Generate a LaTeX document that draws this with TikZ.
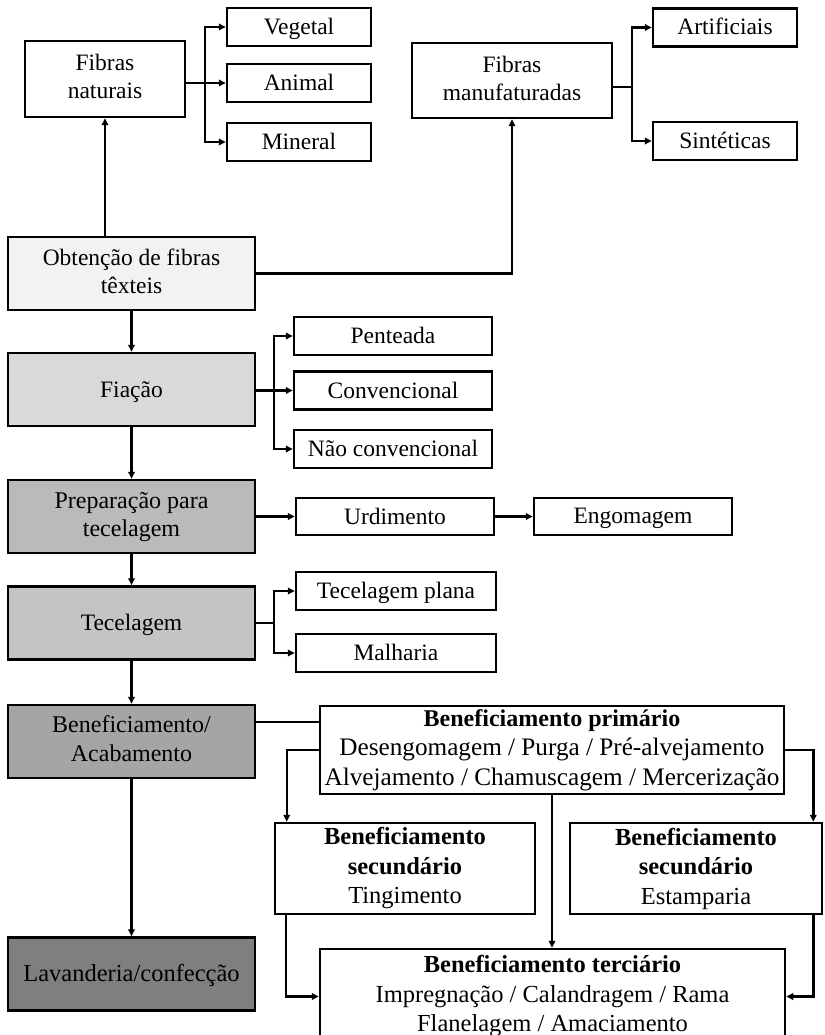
\documentclass[tikz,border=0pt]{standalone}
\usepackage{fontspec}
\setmainfont{Liberation Serif}
\usetikzlibrary{positioning, arrows.meta}

\definecolor{cinzaA}{HTML}{F2F2F2}
\definecolor{cinzaB}{HTML}{D9D9D9}
\definecolor{cinzaC}{HTML}{BABABA}
\definecolor{cinzaD}{HTML}{C4C4C4}
\definecolor{cinzaE}{HTML}{A5A5A5}
\definecolor{cinzaF}{HTML}{7F7F7F}

\begin{document}
\begin{tikzpicture}[x=1pt,y=-1pt]
	% estilos das caixas e setas
	\tikzset{
		apoio/.style 2 args={
			execute at begin node={\rule[-#2]{0pt}{#1}},
			execute at end node={\rule[-#2]{0pt}{#1}}
		},
		caixa/.style={
			draw, line width=2.5pt, fill=white,
			align=center, inner sep=0pt,
			font=\fontsize{23.5}{28}\selectfont,
			apoio={25pt}{5pt}
		},
		etapa/.style={caixa, minimum width=247pt, minimum height=73pt},
		ramo/.style={caixa, minimum height=38pt},
		benef/.style={caixa, font=\fontsize{24.5}{29.5}\selectfont, apoio={25pt}{3pt}},
		seta/.style={line width=2.5pt, -{Triangle[length=7pt,width=6.5pt]}},
		linha/.style={line width=2.5pt}
	}
	\useasboundingbox (0,0) rectangle (824,1035);
	
	% fibras naturais e manufaturadas
	\node[caixa, minimum width=160pt, minimum height=76pt] (nat) at (105,79) {Fibras\\naturais};
	\node[ramo, minimum width=144pt] (veg) at (299,27) {Vegetal};
	\node[ramo, minimum width=144pt] (ani) at (299,83) {Animal};
	\node[ramo, minimum width=144pt] (min) at (299,142) {Mineral};
	\node[caixa, minimum width=200pt, minimum height=75pt] (manuf) at (512,80.5) {Fibras\\manufaturadas};
	\node[ramo, minimum width=144pt] (art) at (725,27.5) {Artificiais};
	\node[ramo, minimum width=144pt] (sin) at (725,141) {Sintéticas};
	
	% etapas do processo (coluna da esquerda)
	\node[etapa, fill=cinzaA] (obt) at (131.5,273.5) {Obtenção de fibras\\têxteis};
	\node[etapa, fill=cinzaB] (fia) at (131.5,389.5) {Fiação};
	\node[etapa, fill=cinzaC, font=\fontsize{24}{28}\selectfont] (prep) at (131.5,516.5) {Preparação para\\tecelagem};
	\node[etapa, fill=cinzaD] (tec) at (131.5,623) {Tecelagem};
	\node[etapa, fill=cinzaE, font=\fontsize{24}{29}\selectfont] (acab) at (131.5,741.5) {Beneficiamento/\\Acabamento};
	\node[etapa, fill=cinzaF, font=\fontsize{24.5}{29}\selectfont] (lav) at (131.5,974) {Lavanderia/confecção};
	
	% ramos de fiação, preparação e tecelagem
	\node[ramo, minimum width=198pt] (pen) at (393,336) {Penteada};
	\node[ramo, minimum width=198pt] (conv) at (393,390.5) {Convencional};
	\node[ramo, minimum width=198pt] (nconv) at (393,449) {Não convencional};
	\node[ramo, minimum width=198pt, minimum height=37pt] (urd) at (395,516.5) {Urdimento};
	\node[ramo, minimum width=198pt, minimum height=37pt] (eng) at (633,516.5) {Engomagem};
	\node[ramo, minimum width=200pt] (plana) at (396,591) {Tecelagem plana};
	\node[ramo, minimum width=200pt] (malh) at (396,653) {Malharia};
	
	% beneficiamentos
	\node[benef, minimum width=464pt, minimum height=88pt, font=\fontsize{25.2}{29.5}\selectfont] (prim) at (552,750)
		{{\fontsize{24}{29.5}\selectfont\textbf{Beneficiamento primário}}\\Desengomagem / Purga / Pré-alvejamento\\Alvejamento / Chamuscagem / Mercerização};
	\node[benef, minimum width=260pt, minimum height=91pt] (secA) at (405,868.5)
		{\textbf{Beneficiamento}\\\textbf{secundário}\\Tingimento};
	\node[benef, minimum width=252pt, minimum height=91pt] (secB) at (696,868.5)
		{\textbf{Beneficiamento}\\\textbf{secundário}\\Estamparia};
	\node[benef, minimum width=465pt, minimum height=95pt] (ter) at (552.5,996.5)
		{\textbf{Beneficiamento terciário}\\Impregnação / Calandragem / Rama\\Flanelagem / Amaciamento};
	
	% pontos de ramificação
	\coordinate (tn) at (205,83);
	\coordinate (tm) at (632,87);
	\coordinate (tf) at (274,390.5);
	\coordinate (tt) at (274,623);
	
	% ligações
	\draw[seta] (obt.north -| nat.south) -- (nat.south);
	\draw[seta] (obt.east) -| (manuf.south);
	\draw[linha] (nat.east |- tn) -- (tn);
	\foreach \b in {veg,ani,min}
		\draw[seta] (tn) |- (\b.west);
	\draw[linha] (manuf.east |- tm) -- (tm);
	\foreach \b in {art,sin}
		\draw[seta] (tm) |- (\b.west);
	
	\draw[seta] (obt) -- (fia);
	\draw[linha] (fia.east |- tf) -- (tf);
	\foreach \b in {pen,conv,nconv}
		\draw[seta] (tf) |- (\b.west);
	
	\draw[seta] (fia) -- (prep);
	\draw[seta] (prep) -- (urd);
	\draw[seta] (urd) -- (eng);
	\draw[seta] (prep) -- (tec);
	\draw[linha] (tec.east) -- (tt);
	\foreach \b in {plana,malh}
		\draw[seta] (tt) |- (\b.west);
	\draw[seta] (tec) -- (acab);
	\draw[seta] (acab) -- (lav);
	
	\draw[linha] ([yshift=19.5pt]acab.east) -- ([yshift=19.5pt]acab.east -| prim.west);
	\draw[seta] (prim.west) -| ([xshift=13pt]secA.north west);
	\draw[seta] (prim.east) -| ([xshift=-10pt]secB.north east);
	\draw[seta] (prim.south) -- (prim.south |- ter.north);
	\draw[seta] ([xshift=12pt]secA.south west) |- (ter.west);
	\draw[seta] ([xshift=-10pt]secB.south east) |- (ter.east);
\end{tikzpicture}
\end{document}
